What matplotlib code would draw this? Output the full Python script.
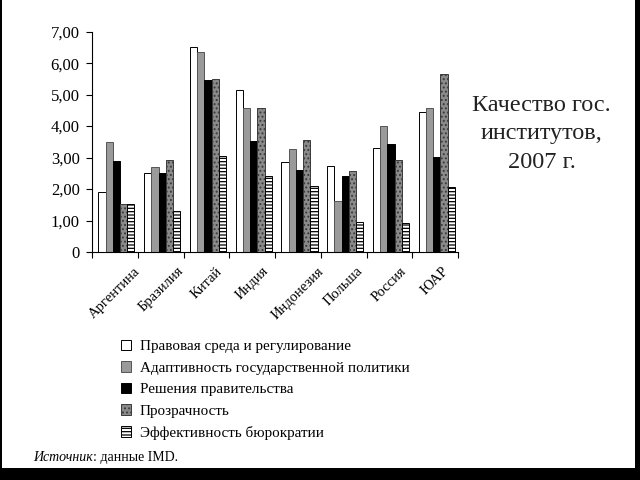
import matplotlib
matplotlib.use("Agg")
import matplotlib.pyplot as plt
from matplotlib.patches import Rectangle
from matplotlib.ticker import FuncFormatter
import numpy as np

plt.rcParams['font.family'] = ['Liberation Serif', 'DejaVu Serif']
plt.rcParams['hatch.linewidth'] = 0.9

countries = ["Аргентина", "Бразилия", "Китай", "Индия", "Индонезия",
             "Польша", "Россия", "ЮАР"]
series_names = ["Правовая среда и регулирование",
                "Адаптивность государственной политики",
                "Решения правительства",
                "Прозрачность",
                "Эффективность бюрократии"]
legal = [1.90, 2.50, 6.51, 5.15, 2.86, 2.74, 3.30, 4.46]
adaptive = [3.51, 2.71, 6.37, 4.59, 3.27, 1.61, 4.01, 4.59]
decisions = [2.88, 2.50, 5.47, 3.54, 2.61, 2.43, 3.42, 3.02]
transparency = [1.53, 2.93, 5.51, 4.59, 3.56, 2.56, 2.92, 5.65]
bureaucracy = [1.53, 1.31, 3.05, 2.41, 2.10, 0.94, 0.91, 2.08]

title = "Качество гос.\nинститутов,\n2007 г."

# bar styles: face, edge, hatch
styles = [("white", "black", None),
          ("#9a9a9a", "#555555", None),
          ("black", "black", None),
          ("#8a8a8a", "#3a3a3a", "...."),
          ("white", "black", "-----")]

fig = plt.figure(figsize=(6.4, 4.8), dpi=100, facecolor="black")
# white slide area
fig.add_artist(Rectangle((0.003, 0.025), 0.989, 0.975, transform=fig.transFigure,
                         facecolor="white", edgecolor="none", zorder=0))

ax = fig.add_axes([0.144, 0.475, 0.572, 0.459])
ax.set_facecolor("none")

x = np.arange(len(countries))
w = 0.158
data = [legal, adaptive, decisions, transparency, bureaucracy]
for k, (vals, name, st) in enumerate(zip(data, series_names, styles)):
    ax.bar(x + (k - 2) * w + 0.03, vals, width=w, color=st[0], edgecolor=st[1],
           hatch=st[2], linewidth=0.7, label=name)

ax.set_xlim(-0.5, len(countries) - 0.5)
ax.set_ylim(0, 7)
ax.set_yticks(np.arange(0, 8))
ax.yaxis.set_major_formatter(FuncFormatter(
    lambda v, p: "0" if v == 0 else ("%.2f" % v).replace(".", ",")))
ax.tick_params(axis="y", direction="out", length=4, width=0.8, labelsize=12, pad=5)

ax.set_xticks(x)
ax.set_xticklabels(countries, rotation=45, fontsize=10.5)
ax.set_xticks(np.arange(-0.5, len(countries)), minor=True)
ax.tick_params(axis="x", which="major", length=0, pad=9)
ax.tick_params(axis="x", which="minor", direction="out", length=4, width=0.8)

for s in ["top", "right"]:
    ax.spines[s].set_visible(False)
ax.spines["left"].set_linewidth(0.8)
ax.spines["bottom"].set_linewidth(0.8)

fig.legend(loc="upper left", bbox_to_anchor=(0.177, 0.308), frameon=False,
           fontsize=10.9, handlelength=0.7, handleheight=0.7,
           handletextpad=0.55, labelspacing=0.52, borderpad=0)

fig.text(0.846, 1 - 134 / 480, title, ha="center", va="center",
         multialignment="center", fontsize=17.5, linespacing=1.45, color="#222222")

t1 = fig.text(0.052, 1 - 461 / 480, "Источник", fontsize=10, style="italic")
ax.annotate(": данные IMD.", xy=(1, 0), xycoords=t1, fontsize=10,
            va="bottom", ha="left", annotation_clip=False)

fig.savefig("out.png", dpi=100, facecolor=fig.get_facecolor())
